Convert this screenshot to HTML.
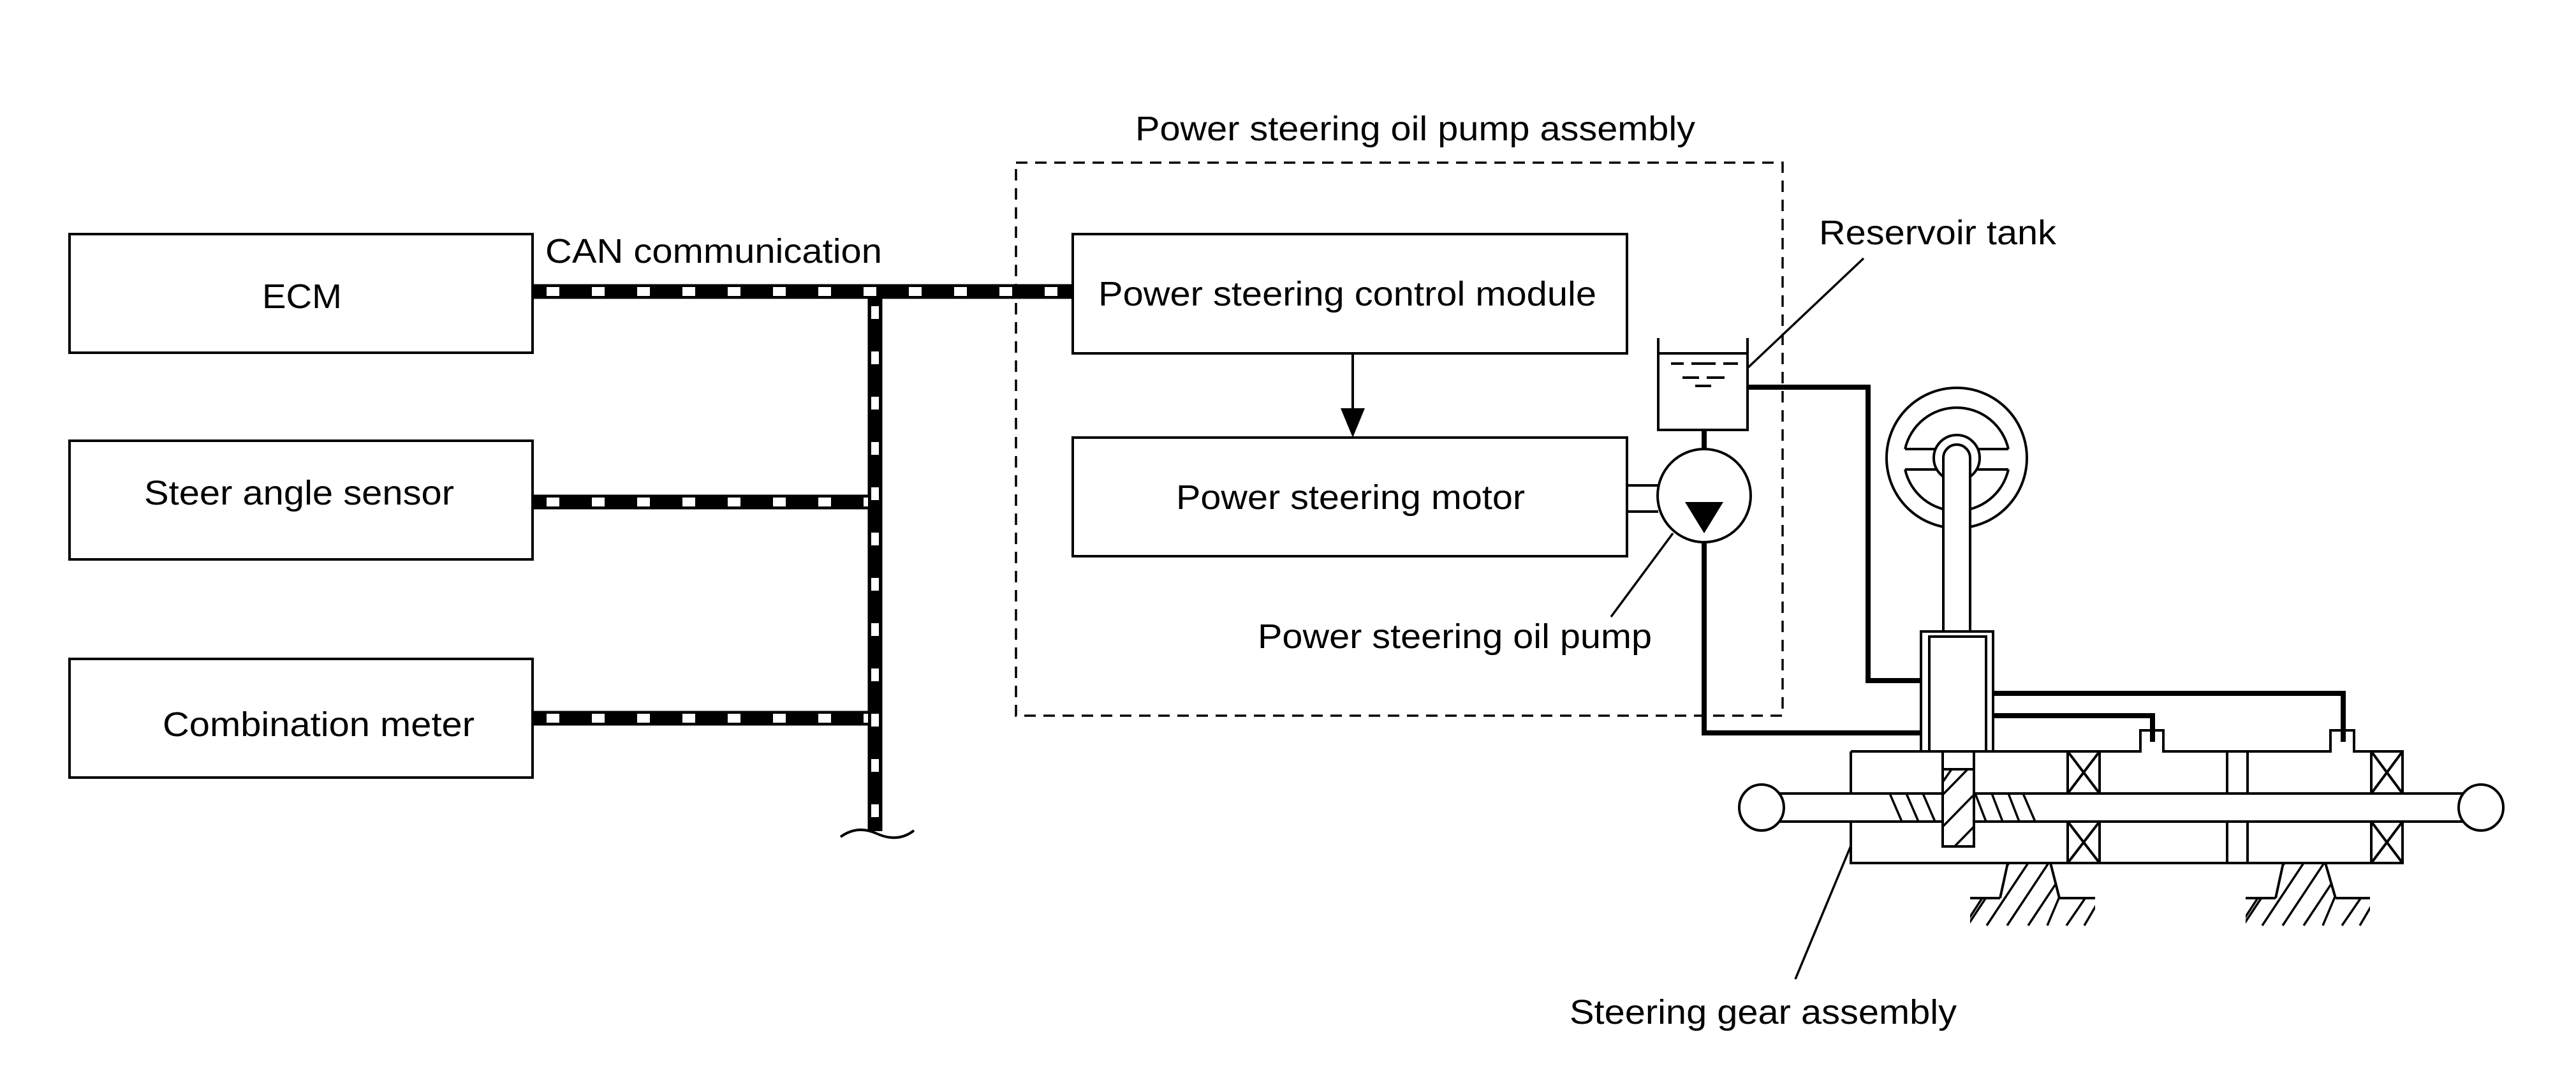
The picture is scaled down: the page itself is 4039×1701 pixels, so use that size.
<!DOCTYPE html>
<html><head><meta charset="utf-8"><style>html,body{margin:0;padding:0;background:#fff}svg{display:block}</style></head>
<body>
<svg width="4039" height="1701" viewBox="0 0 4039 1701" xmlns="http://www.w3.org/2000/svg" font-family="'Liberation Sans', Arial, sans-serif" font-size="54">
<defs>
<clipPath id="s1"><path d="M3148,1355 L3136,1408 L3089,1408 L3089,1452 L3285,1452 L3285,1408 L3229,1408 L3215,1355 Z"/></clipPath>
<clipPath id="s2"><path d="M3580,1355 L3568,1408 L3521,1408 L3521,1452 L3716,1452 L3716,1408 L3662,1408 L3646,1355 Z"/></clipPath>
<clipPath id="pin"><rect x="3046" y="1206" width="49" height="121"/></clipPath>
</defs>
<g fill="none" stroke="#000" stroke-width="4">
<rect x="109" y="367" width="726" height="186"/>
<rect x="109" y="691" width="726" height="186"/>
<rect x="109" y="1033" width="726" height="186"/>
<rect x="1593" y="255" width="1202" height="867" stroke-width="3.5" stroke-dasharray="18 12"/>
<rect x="1682" y="367" width="869" height="187"/>
<rect x="1682" y="686" width="869" height="186"/>
<line x1="2121" y1="554" x2="2121" y2="645"/>
</g>
<path d="M2102,640 L2140,640 L2121,686 Z" fill="#000"/>
<g fill="none">
<path d="M835,457 H1682 M835,787 H1372 M835,1126 H1372 M1372,446 V1303" stroke="#000" stroke-width="23"/>
<path d="M835,457 H1682" stroke="#fff" stroke-width="14" stroke-dasharray="20 51" stroke-dashoffset="-22"/>
<path d="M835,787 H1361" stroke="#fff" stroke-width="14" stroke-dasharray="20 51" stroke-dashoffset="-22"/>
<path d="M835,1126 H1361" stroke="#fff" stroke-width="14" stroke-dasharray="20 51" stroke-dashoffset="-22"/>
<path d="M1372,470 V1303" stroke="#fff" stroke-width="12" stroke-dasharray="20 51" stroke-dashoffset="-10"/>
<path d="M1318,1312 C1340,1296 1360,1300 1375,1307 C1395,1316 1415,1316 1433,1302" stroke="#000" stroke-width="4"/>
</g>
<g fill="none" stroke="#000" stroke-width="4">
<path d="M2600,530 V674 H2740 V530 M2600,554 H2740"/>
<path d="M2620,570 H2640 M2652,570 H2690 M2702,570 H2725 M2638,592 H2664 M2676,592 H2704 M2658,605 H2683"/>
<path d="M2551,761 H2600 M2551,802 H2600"/>
<circle cx="2672" cy="777" r="73" fill="#fff"/>
<line x1="2740" y1="577" x2="2922" y2="405" stroke-width="3.5"/>
<line x1="2623" y1="836" x2="2526" y2="967" stroke-width="3.5"/>
</g>
<path d="M2642,787 L2702,787 L2672,836 Z" fill="#000"/>
<g fill="none" stroke="#000" stroke-width="8">
<path d="M2672,674 V703 M2672,851 V1149 H3012 M2740,607 H2929 V1067 H3012 M3125,1087 H3674 V1163 M3125,1122 H3375 V1163"/>
</g>
<g fill="none" stroke="#000" stroke-width="4">
<circle cx="3068" cy="718" r="110"/>
<path d="M2987,704 A83,83 0 0 1 3149,704 M2987,736 A83,83 0 0 0 3149,736 M2987,704 H3036 M3100,704 H3149 M2987,736 H3036 M3100,736 H3149"/>
<circle cx="3068" cy="718" r="36" fill="#fff"/>
<path d="M3047,998 V718 A21,21 0 0 1 3089,718 V998" fill="#fff"/>
<rect x="3012" y="990" width="113" height="188" fill="#fff"/>
<rect x="3025" y="998" width="89" height="180" fill="#fff"/>
</g>
<g fill="none" stroke="#000" stroke-width="4">
<path d="M2902,1178 H3012 M3125,1178 H3356 V1145 H3392 V1178 H3654 V1145 H3691 V1178 H3767 V1244 M3767,1288 V1353 H2902 V1288 M2902,1244 V1178"/>
<path d="M2762,1244 H3890 M2762,1288 H3890"/>
<path d="M3242,1178 V1244 M3292,1178 V1244 M3242,1288 V1353 M3292,1288 V1353 M3242,1178 L3292,1244 M3292,1178 L3242,1244 M3242,1288 L3292,1353 M3292,1288 L3242,1353"/>
<path d="M3718,1178 V1244 M3718,1288 V1353 M3718,1178 L3767,1244 M3767,1178 L3718,1244 M3718,1288 L3767,1353 M3767,1288 L3718,1353"/>
<path d="M3492,1178 V1244 M3524,1178 V1244 M3492,1288 V1353 M3524,1288 V1353"/>
<path d="M2963,1244 L2982,1288 M2989,1244 L3008,1288 M3015,1244 L3034,1288 M3097,1244 L3114,1288 M3123,1244 L3140,1288 M3149,1244 L3166,1288 M3172,1244 L3191,1288" stroke-width="3.5"/>
<ellipse cx="2762" cy="1266" rx="35" ry="36" fill="#fff"/>
<ellipse cx="3890" cy="1266" rx="35" ry="36" fill="#fff"/>
<rect x="3046" y="1178" width="49" height="149" fill="#fff"/>
<line x1="3046" y1="1206" x2="3095" y2="1206"/>
<g clip-path="url(#pin)" stroke-width="3.5"><path d="M3046,1246 L3095,1196 M3046,1296 L3095,1246 M3046,1346 L3095,1296 M3046,1226 L3060,1206"/></g>
<path d="M3148,1353 L3136,1408 M3215,1353 L3229,1408 M3089,1408 H3136 M3229,1408 H3285"/>
<path d="M3580,1353 L3568,1408 M3646,1353 L3662,1408 M3521,1408 H3568 M3662,1408 H3716"/>
<g clip-path="url(#s1)" stroke-width="3.5"><path d="M3108,1408 L3080,1451 M3150,1353 L3085,1451 M3180,1353 L3115,1451 M3212,1353 L3147,1451 M3245,1353 L3180,1451 M3275,1400 L3240,1451 M3298,1400 L3268,1451 M3240,1380 L3210,1451"/></g>
<g clip-path="url(#s2)" stroke-width="3.5"><path d="M3540,1408 L3512,1451 M3582,1353 L3517,1451 M3612,1353 L3547,1451 M3644,1353 L3579,1451 M3677,1353 L3612,1451 M3707,1400 L3672,1451 M3730,1400 L3700,1451 M3672,1380 L3642,1451"/></g>
<line x1="2902" y1="1326" x2="2815" y2="1535" stroke-width="3.5"/>
</g>
<g fill="#000" stroke="none">
<text x="1780" y="220" textLength="878" lengthAdjust="spacingAndGlyphs">Power steering oil pump assembly</text>
<text x="855" y="412" textLength="528" lengthAdjust="spacingAndGlyphs">CAN communication</text>
<text x="411" y="483" textLength="125" lengthAdjust="spacingAndGlyphs">ECM</text>
<text x="226" y="791" textLength="486" lengthAdjust="spacingAndGlyphs">Steer angle sensor</text>
<text x="255" y="1154" textLength="489" lengthAdjust="spacingAndGlyphs">Combination meter</text>
<text x="1722" y="479" textLength="781" lengthAdjust="spacingAndGlyphs">Power steering control module</text>
<text x="1844" y="798" textLength="547" lengthAdjust="spacingAndGlyphs">Power steering motor</text>
<text x="1972" y="1016" textLength="618" lengthAdjust="spacingAndGlyphs">Power steering oil pump</text>
<text x="2852" y="383" textLength="372" lengthAdjust="spacingAndGlyphs">Reservoir tank</text>
<text x="2461" y="1605" textLength="607" lengthAdjust="spacingAndGlyphs">Steering gear assembly</text>
</g>
</svg>
</body></html>
